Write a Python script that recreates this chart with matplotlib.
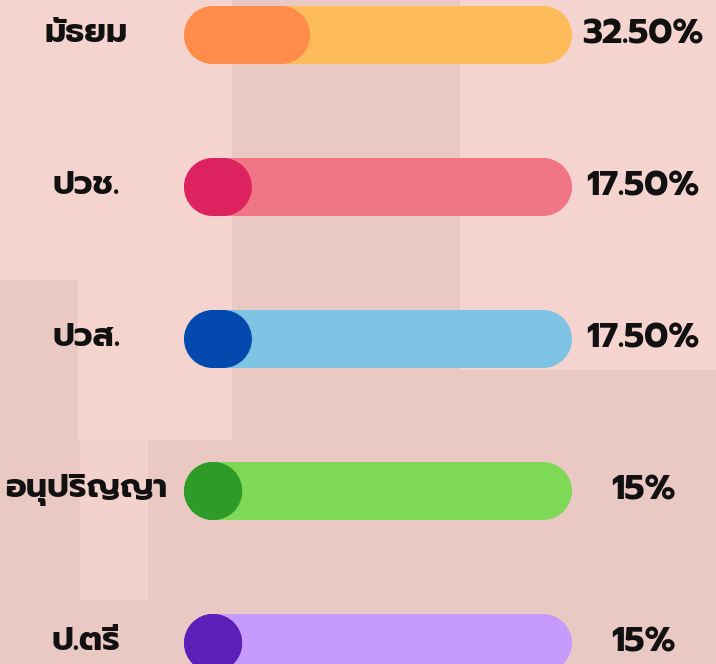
import matplotlib
matplotlib.use("Agg")
import matplotlib.pyplot as plt
from matplotlib.patches import Ellipse, Rectangle

plt.rcParams['font.family'] = ['Prompt', 'Kanit', 'DejaVu Sans']

# data
levels = ['มัธยม', 'ปวช.', 'ปวส.', 'อนุปริญญา', 'ป.ตรี']
percent = [32.5, 17.5, 17.5, 15, 15]
value_labels = ['32.50%', '17.50%', '17.50%', '15%', '15%']
track_colors = ['#FDBB5A', '#F07585', '#7EC3E3', '#7ED957', '#C79BFB']
fill_colors = ['#FF8C4A', '#DC2360', '#0349AE', '#2E9B28', '#5E1FB8']

W, H = 716, 664
fig = plt.figure(figsize=(W / 100, H / 100), dpi=100)
fig.patch.set_facecolor('#F5D4CF')

# faint buildings in the background
bg = fig.add_axes([0, 0, 1, 1])
bg.set_xlim(0, W)
bg.set_ylim(H, 0)
bg.axis('off')
shade = '#EAC8C3'
for x, y, w, h in [(232, 0, 228, 664), (0, 280, 78, 384), (460, 370, 256, 294),
                   (0, 440, 232, 224)]:
    bg.add_patch(Rectangle((x, y), w, h, color=shade, lw=0))
bg.add_patch(Rectangle((80, 440), 68, 160, color='#F3D2CD', lw=0))

# bar area: 0..100 % maps to pixels 184..572, rows every 152 px starting at 35
px_x = 3.88
px_y = 152.0
ax = fig.add_axes([0, 0, 1, 1])
ax.patch.set_alpha(0)
ax.set_xlim(-184 / px_x, (W - 184) / px_x)
ax.set_ylim((H - 35) / px_y, -35 / px_y)
ax.axis('off')

bar_h = 58 / px_y
cap_w = 58 / px_x


def pill(x0, x1, y, color):
    # rounded bar from x0 to x1 (data units), round caps drawn as circles
    a, b = x0 + cap_w / 2, x1 - cap_w / 2
    if b > a:
        ax.add_patch(Rectangle((a, y - bar_h / 2), b - a, bar_h, fc=color, ec='none'))
    ax.add_patch(Ellipse((a, y), cap_w, bar_h, fc=color, ec='none'))
    ax.add_patch(Ellipse((max(a, b), y), cap_w, bar_h, fc=color, ec='none'))


for i, (name, p, lab) in enumerate(zip(levels, percent, value_labels)):
    pill(0, 100, i, track_colors[i])
    pill(0, p, i, fill_colors[i])
    ax.text(-98 / px_x, i - 0.01, name, ha='center', va='center',
            fontsize=24, fontweight='bold', color='#111111')
    ax.text((643 - 184) / px_x, i, lab, ha='center', va='center',
            fontsize=25, fontweight='bold', color='#111111')

fig.savefig('out.png', dpi=100, facecolor=fig.get_facecolor())
